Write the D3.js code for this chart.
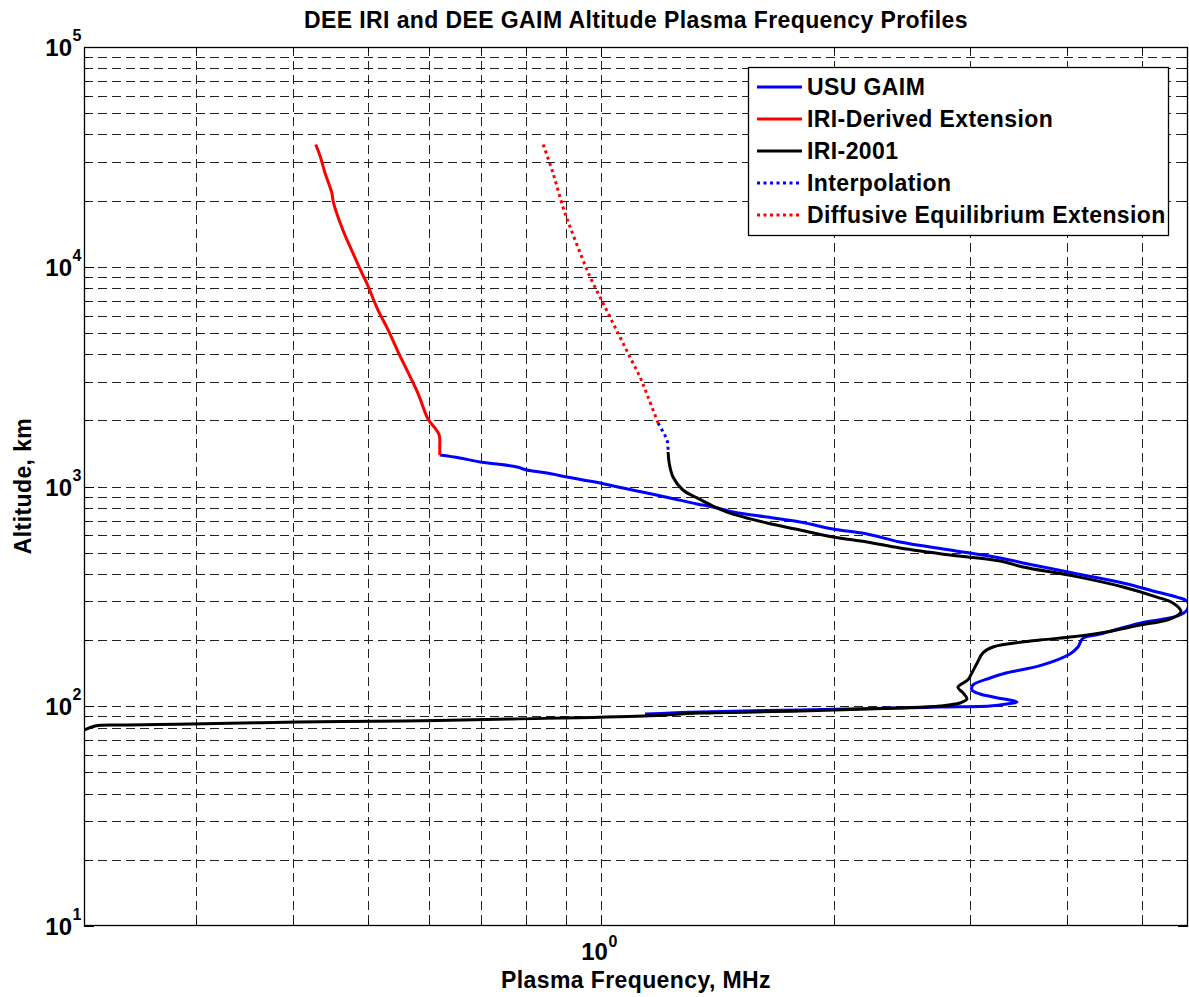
<!DOCTYPE html>
<html>
<head>
<meta charset="utf-8">
<script src="https://cdn.jsdelivr.net/npm/d3@7"></script>
<style>
  body { margin: 0; background: #fff; }
  text { font-family: "Liberation Sans", Arial, sans-serif; font-weight: bold; fill: #000; }
</style>
</head>
<body>
<div id="container"></div>
<script>
// USU GAIM profile (altitude km, plasma frequency MHz)
var gaimAlt  = [1390, 1348, 1293, 1266, 1227, 1189, 1152, 1105, 1071, 1037, 984, 934, 887, 833, 807, 766, 726, 690, 641, 608, 559, 514, 473, 449, 404, 364, 331, 314, 298, 274, 257, 239, 213, 204, 186, 173, 153, 142, 134.5, 125, 118.6, 113.7, 110.2, 104.5, 102.4, 100.3, 99.2, 98.2, 96.2, 94.2, 92.2];
var gaimFreq = [0.619, 0.657, 0.698, 0.734, 0.779, 0.802, 0.852, 0.904, 0.948, 0.997, 1.068, 1.147, 1.228, 1.331, 1.395, 1.481, 1.639, 1.808, 1.994, 2.207, 2.434, 2.824, 3.279, 3.510, 4.072, 4.726, 5.227, 5.549, 5.734, 5.717, 5.549, 4.970, 4.413, 4.195, 4.133, 4.036, 3.692, 3.346, 3.182, 3.024, 3.015, 3.088, 3.210, 3.448, 3.346, 3.182, 2.742, 2.43, 1.81, 1.342, 1.14];

// IRI-derived topside extension
var iriExtAlt  = [36000, 31600, 26700, 21700, 19700, 14700, 11550, 9370, 8440, 6360, 5150, 4090, 3150, 2660, 2070, 1970, 1850, 1715, 1510, 1390];
var iriExtFreq = [0.428, 0.434, 0.440, 0.449, 0.451, 0.464, 0.478, 0.491, 0.498, 0.515, 0.531, 0.547, 0.567, 0.580, 0.596, 0.601, 0.610, 0.618, 0.619, 0.619];

// IRI-2001
var iriAlt  = [1436, 1279, 1105, 964, 887, 815, 765, 682, 634, 589, 559, 525, 488, 458, 430, 392, 349, 314, 295, 269, 260, 247, 234, 218, 207, 200, 186, 175, 157, 142, 132, 122, 115, 108, 103.5, 100.3, 98.2, 95.1, 93.1, 90.3, 87.5, 85.7, 84.8, 83.0, 82.2, 81.3, 78];
var iriFreq = [1.221, 1.225, 1.239, 1.276, 1.331, 1.395, 1.455, 1.639, 1.808, 1.994, 2.207, 2.434, 2.824, 3.279, 3.510, 4.072, 4.726, 5.227, 5.483, 5.616, 5.567, 5.387, 4.970, 4.505, 4.072, 3.692, 3.210, 3.115, 3.061, 3.015, 2.980, 2.892, 2.936, 2.971, 2.910, 2.742, 2.43, 1.81, 1.342, 1.137, 0.770, 0.558, 0.406, 0.295, 0.239, 0.222, 0.215];

// interpolation between IRI top and diffusive equilibrium
var interpAlt  = [1945, 1771, 1628, 1466, 1436];
var interpFreq = [1.185, 1.203, 1.217, 1.221, 1.221];

// diffusive equilibrium extension
var deAlt  = [36000, 26700, 18700, 15200, 11550, 8990, 7290, 5910, 4790, 3880, 3150, 2560, 1945];
var deFreq = [0.842, 0.867, 0.893, 0.912, 0.940, 0.968, 0.997, 1.027, 1.058, 1.090, 1.123, 1.150, 1.185];

var legendLabels = ["USU GAIM", "IRI-Derived Extension", "IRI-2001", "Interpolation", "Diffusive Equilibrium Extension"];
var xGrid = [0.3, 0.4, 0.5, 0.6, 0.7, 0.8, 0.9, 1, 2, 3, 4, 5];
var xTickLabels = [1];
var yTickLabels = [10, 100, 1000, 10000, 100000];

var width = 1189, height = 997;
// plot box (note: "top" is reserved on window, so use pl/pr/pt/pb)
var pl = 84, pr = 1188, pt = 47, pb = 926;

var svg = d3.select("#container").append("svg")
    .attr("width", width)
    .attr("height", height);

var x = d3.scaleLog().domain([0.2148, 5.734]).range([pl, pr]);
var y = d3.scaleLog().domain([10, 100000]).range([pb, pt]);

var yGrid = [];
for (var e = 1; e <= 4; e++) {
    for (var m = 1; m <= 9; m++) yGrid.push(m * Math.pow(10, e));
}
yGrid.push(100000);

svg.append("rect").attr("x", pl).attr("y", pt)
    .attr("width", pr - pl).attr("height", pb - pt)
    .attr("fill", "#fff");

// grid
var grid = svg.append("g").attr("stroke", "#222").attr("stroke-width", 1)
    .attr("stroke-dasharray", "9,5");
grid.selectAll(".gx").data(xGrid).enter().append("line")
    .attr("x1", function(d) { return Math.round(x(d)) + 0.5; })
    .attr("x2", function(d) { return Math.round(x(d)) + 0.5; })
    .attr("y1", pt).attr("y2", pb);
grid.selectAll(".gy").data(yGrid.slice(1, -1)).enter().append("line")
    .attr("y1", function(d) { return Math.round(y(d)) + 0.5; })
    .attr("y2", function(d) { return Math.round(y(d)) + 0.5; })
    .attr("x1", pl).attr("x2", pr);

// ticks, inward on all four sides
var ticks = svg.append("g").attr("stroke", "#000").attr("stroke-width", 1);
function isMajor(d) { return Math.abs(Math.log10(d) - Math.round(Math.log10(d))) < 1e-9; }
xGrid.forEach(function(d) {
    var px = Math.round(x(d)) + 0.5, len = isMajor(d) ? 10 : 5;
    ticks.append("line").attr("x1", px).attr("x2", px).attr("y1", pb).attr("y2", pb - len);
    ticks.append("line").attr("x1", px).attr("x2", px).attr("y1", pt).attr("y2", pt + len);
});
yGrid.forEach(function(d) {
    var py = Math.round(y(d)) + 0.5, len = isMajor(d) ? 10 : 5;
    ticks.append("line").attr("y1", py).attr("y2", py).attr("x1", pl).attr("x2", pl + len);
    ticks.append("line").attr("y1", py).attr("y2", py).attr("x1", pr).attr("x2", pr - len);
});

// curves
svg.append("clipPath").attr("id", "clip").append("rect")
    .attr("x", pl).attr("y", pt).attr("width", pr - pl).attr("height", pb - pt);

function pts(alt, freq) {
    return alt.map(function(a, i) { return [freq[i], a]; });
}
var line = d3.line()
    .curve(d3.curveCatmullRom.alpha(0.5))
    .x(function(d) { return x(d[0]); })
    .y(function(d) { return y(d[1]); });

var series = [
    { data: pts(gaimAlt, gaimFreq), color: "#0000ff", dash: null },
    { data: pts(iriExtAlt, iriExtFreq), color: "#ff0000", dash: null },
    { data: pts(iriAlt, iriFreq), color: "#000000", dash: null },
    { data: pts(interpAlt, interpFreq), color: "#0000ff", dash: "3,3.5" },
    { data: pts(deAlt, deFreq), color: "#ff0000", dash: "3,3.5" }
];

var plot = svg.append("g").attr("clip-path", "url(#clip)");
plot.selectAll("path").data(series).enter().append("path")
    .attr("d", function(d) { return line(d.data); })
    .attr("fill", "none")
    .attr("stroke", function(d) { return d.color; })
    .attr("stroke-width", 3)
    .attr("stroke-linejoin", "round")
    .attr("stroke-dasharray", function(d) { return d.dash; });

// axes box
svg.append("rect").attr("x", pl + 0.5).attr("y", pt + 0.5)
    .attr("width", pr - pl - 1).attr("height", pb - pt - 1)
    .attr("fill", "none").attr("stroke", "#000").attr("stroke-width", 1.3);

// tick labels
yTickLabels.forEach(function(d) {
    var py = y(d);
    svg.append("text").attr("x", 72).attr("y", py + 9)
        .attr("text-anchor", "end").style("font-size", "24px").text("10");
    svg.append("text").attr("x", 72.5).attr("y", py - 6)
        .style("font-size", "16px").text(String(Math.round(Math.log10(d))));
});
xTickLabels.forEach(function(d) {
    var px = x(d);
    svg.append("text").attr("x", px + 7).attr("y", 960)
        .attr("text-anchor", "end").style("font-size", "24px").text("10");
    svg.append("text").attr("x", px + 7.5).attr("y", 947)
        .style("font-size", "16px").text(String(Math.round(Math.log10(d))));
});

// titles
svg.append("text").attr("x", 636).attr("y", 28)
    .attr("text-anchor", "middle").style("font-size", "23px").style("letter-spacing", "0.4px")
    .text("DEE IRI and DEE GAIM Altitude Plasma Frequency Profiles");
svg.append("text").attr("x", 636).attr("y", 988)
    .attr("text-anchor", "middle").style("font-size", "23px").style("letter-spacing", "0.4px")
    .text("Plasma Frequency, MHz");
svg.append("text").attr("transform", "translate(31,486) rotate(-90)")
    .attr("text-anchor", "middle").style("font-size", "23px").style("letter-spacing", "0.4px")
    .text("Altitude, km");

// legend
var lg = svg.append("g");
lg.append("rect").attr("x", 748.5).attr("y", 67.5).attr("width", 420).attr("height", 168)
    .attr("fill", "#fff").attr("stroke", "#000").attr("stroke-width", 1.3);
var rowY = d3.scalePoint().domain(d3.range(legendLabels.length)).range([87, 215]);
legendLabels.forEach(function(lab, i) {
    var ry = rowY(i);
    lg.append("line").attr("x1", 757).attr("x2", 802).attr("y1", ry).attr("y2", ry)
        .attr("stroke", series[i].color).attr("stroke-width", 3)
        .attr("stroke-dasharray", series[i].dash);
    lg.append("text").attr("x", 807).attr("y", ry + 8)
        .style("font-size", "23px").style("letter-spacing", "0.4px").text(lab);
});
</script>
</body>
</html>
